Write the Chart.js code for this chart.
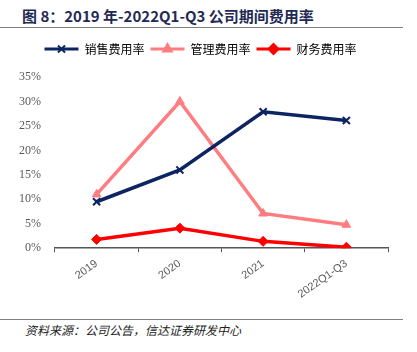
<!DOCTYPE html>
<html lang="zh">
<head>
<meta charset="UTF-8">
<title>2019年-2022Q1-Q3公司期间费用率</title>
<script src="https://cdn.jsdelivr.net/npm/chart.js"></script>
<style>
  body { margin: 0; background: #fff; }
  #wrap { position: relative; width: 417px; height: 352px; font-family: "Noto Sans CJK SC", "Noto Sans", sans-serif; }
  #title { position: absolute; left: 22px; top: 5px; font-size: 15px; font-weight: bold; color: #1f2a55; white-space: nowrap; }
  .rule { position: absolute; left: 0; width: 403px; height: 0; border-top: 1.5px solid #808080; }
  #source { position: absolute; left: 25px; top: 321px; font-size: 12px; font-style: italic; color: #222; white-space: nowrap; }
  #box { position: absolute; left: 0; top: 30px; width: 417px; height: 276px; }
</style>
</head>
<body>
<div id="wrap">
  <div id="title">图 8：2019 年-2022Q1-Q3 公司期间费用率</div>
  <div class="rule" style="top:27px"></div>
  <div id="box"><canvas id="c"></canvas></div>
  <div class="rule" style="top:319px"></div>
  <div id="source">资料来源：公司公告，信达证券研发中心</div>
</div>
<script>
// data (%)
const years = ['2019', '2020', '2021', '2022Q1-Q3'];
const sales = [9.5, 16.0, 27.9, 26.1];
const admin = [11.0, 30.0, 7.1, 4.8];
const finance = [1.8, 4.1, 1.4, 0.2];

const colors = ['#0d2463', '#ff7c80', '#ff0000'];

// draw the marker on top of each legend line
const legendMarks = {
  id: 'legendMarks',
  afterDraw(chart) {
    const lg = chart.legend;
    if (!lg || !lg.legendHitBoxes) return;
    const ctx = chart.ctx;
    lg.legendHitBoxes.forEach((hb, i) => {
      const ds = chart.data.datasets[i];
      const x = hb.left + 17, y = hb.top + hb.height / 2;
      ctx.save();
      ctx.fillStyle = ds.borderColor;
      ctx.strokeStyle = ds.borderColor;
      ctx.lineWidth = 2;
      Chart.helpers.drawPoint(ctx, { pointStyle: ds.pointStyle, radius: ds.pointRadius, borderWidth: 2 }, x, y);
      ctx.restore();
    });
  }
};

// extra room under the legend
const legendGap = {
  id: 'legendGap',
  beforeInit(chart) {
    const fit = chart.legend.fit;
    chart.legend.fit = function () {
      fit.bind(chart.legend)();
      this.height += 12;
    };
  }
};

new Chart(document.getElementById('c'), {
  type: 'line',
  data: {
    labels: years,
    datasets: [
      { label: '销售费用率', data: sales, borderColor: colors[0], backgroundColor: colors[0],
        pointStyle: 'crossRot', pointRadius: 5, pointBorderWidth: 2 },
      { label: '管理费用率', data: admin, borderColor: colors[1], backgroundColor: colors[1],
        pointStyle: 'triangle', pointRadius: 5 },
      { label: '财务费用率', data: finance, borderColor: colors[2], backgroundColor: colors[2],
        pointStyle: 'rectRot', pointRadius: 5 }
    ]
  },
  options: {
    responsive: true,
    maintainAspectRatio: false,
    animation: false,
    elements: { line: { borderWidth: 3.5, tension: 0 } },
    layout: { padding: { left: 13, right: 29, top: 7, bottom: 0 } },
    plugins: {
      legend: {
        position: 'top',
        labels: {
          boxWidth: 34, boxHeight: 3, padding: 6,
          color: '#333',
          font: { family: '"Noto Sans CJK SC"', size: 12 },
          generateLabels(chart) {
            return chart.data.datasets.map((ds, i) => ({
              text: ds.label, fillStyle: ds.borderColor, strokeStyle: ds.borderColor,
              lineWidth: 0, datasetIndex: i
            }));
          }
        }
      },
      tooltip: { enabled: false }
    },
    scales: {
      x: {
        offset: true,
        grid: { display: true, drawOnChartArea: false, offset: true, color: '#555', tickLength: 4, tickWidth: 1 },
        border: { display: true, color: '#555', width: 1.5 },
        ticks: { color: '#595959', font: { family: '"Liberation Sans"', size: 11 }, minRotation: 35, maxRotation: 35, padding: 5 }
      },
      y: {
        min: 0, max: 35,
        grid: { display: false },
        border: { display: false },
        ticks: { stepSize: 5, color: '#595959', padding: 6,
          font: { family: '"Liberation Serif"', size: 12 },
          callback: v => v + '%' }
      }
    }
  },
  plugins: [legendMarks, legendGap]
});
</script>
</body>
</html>
